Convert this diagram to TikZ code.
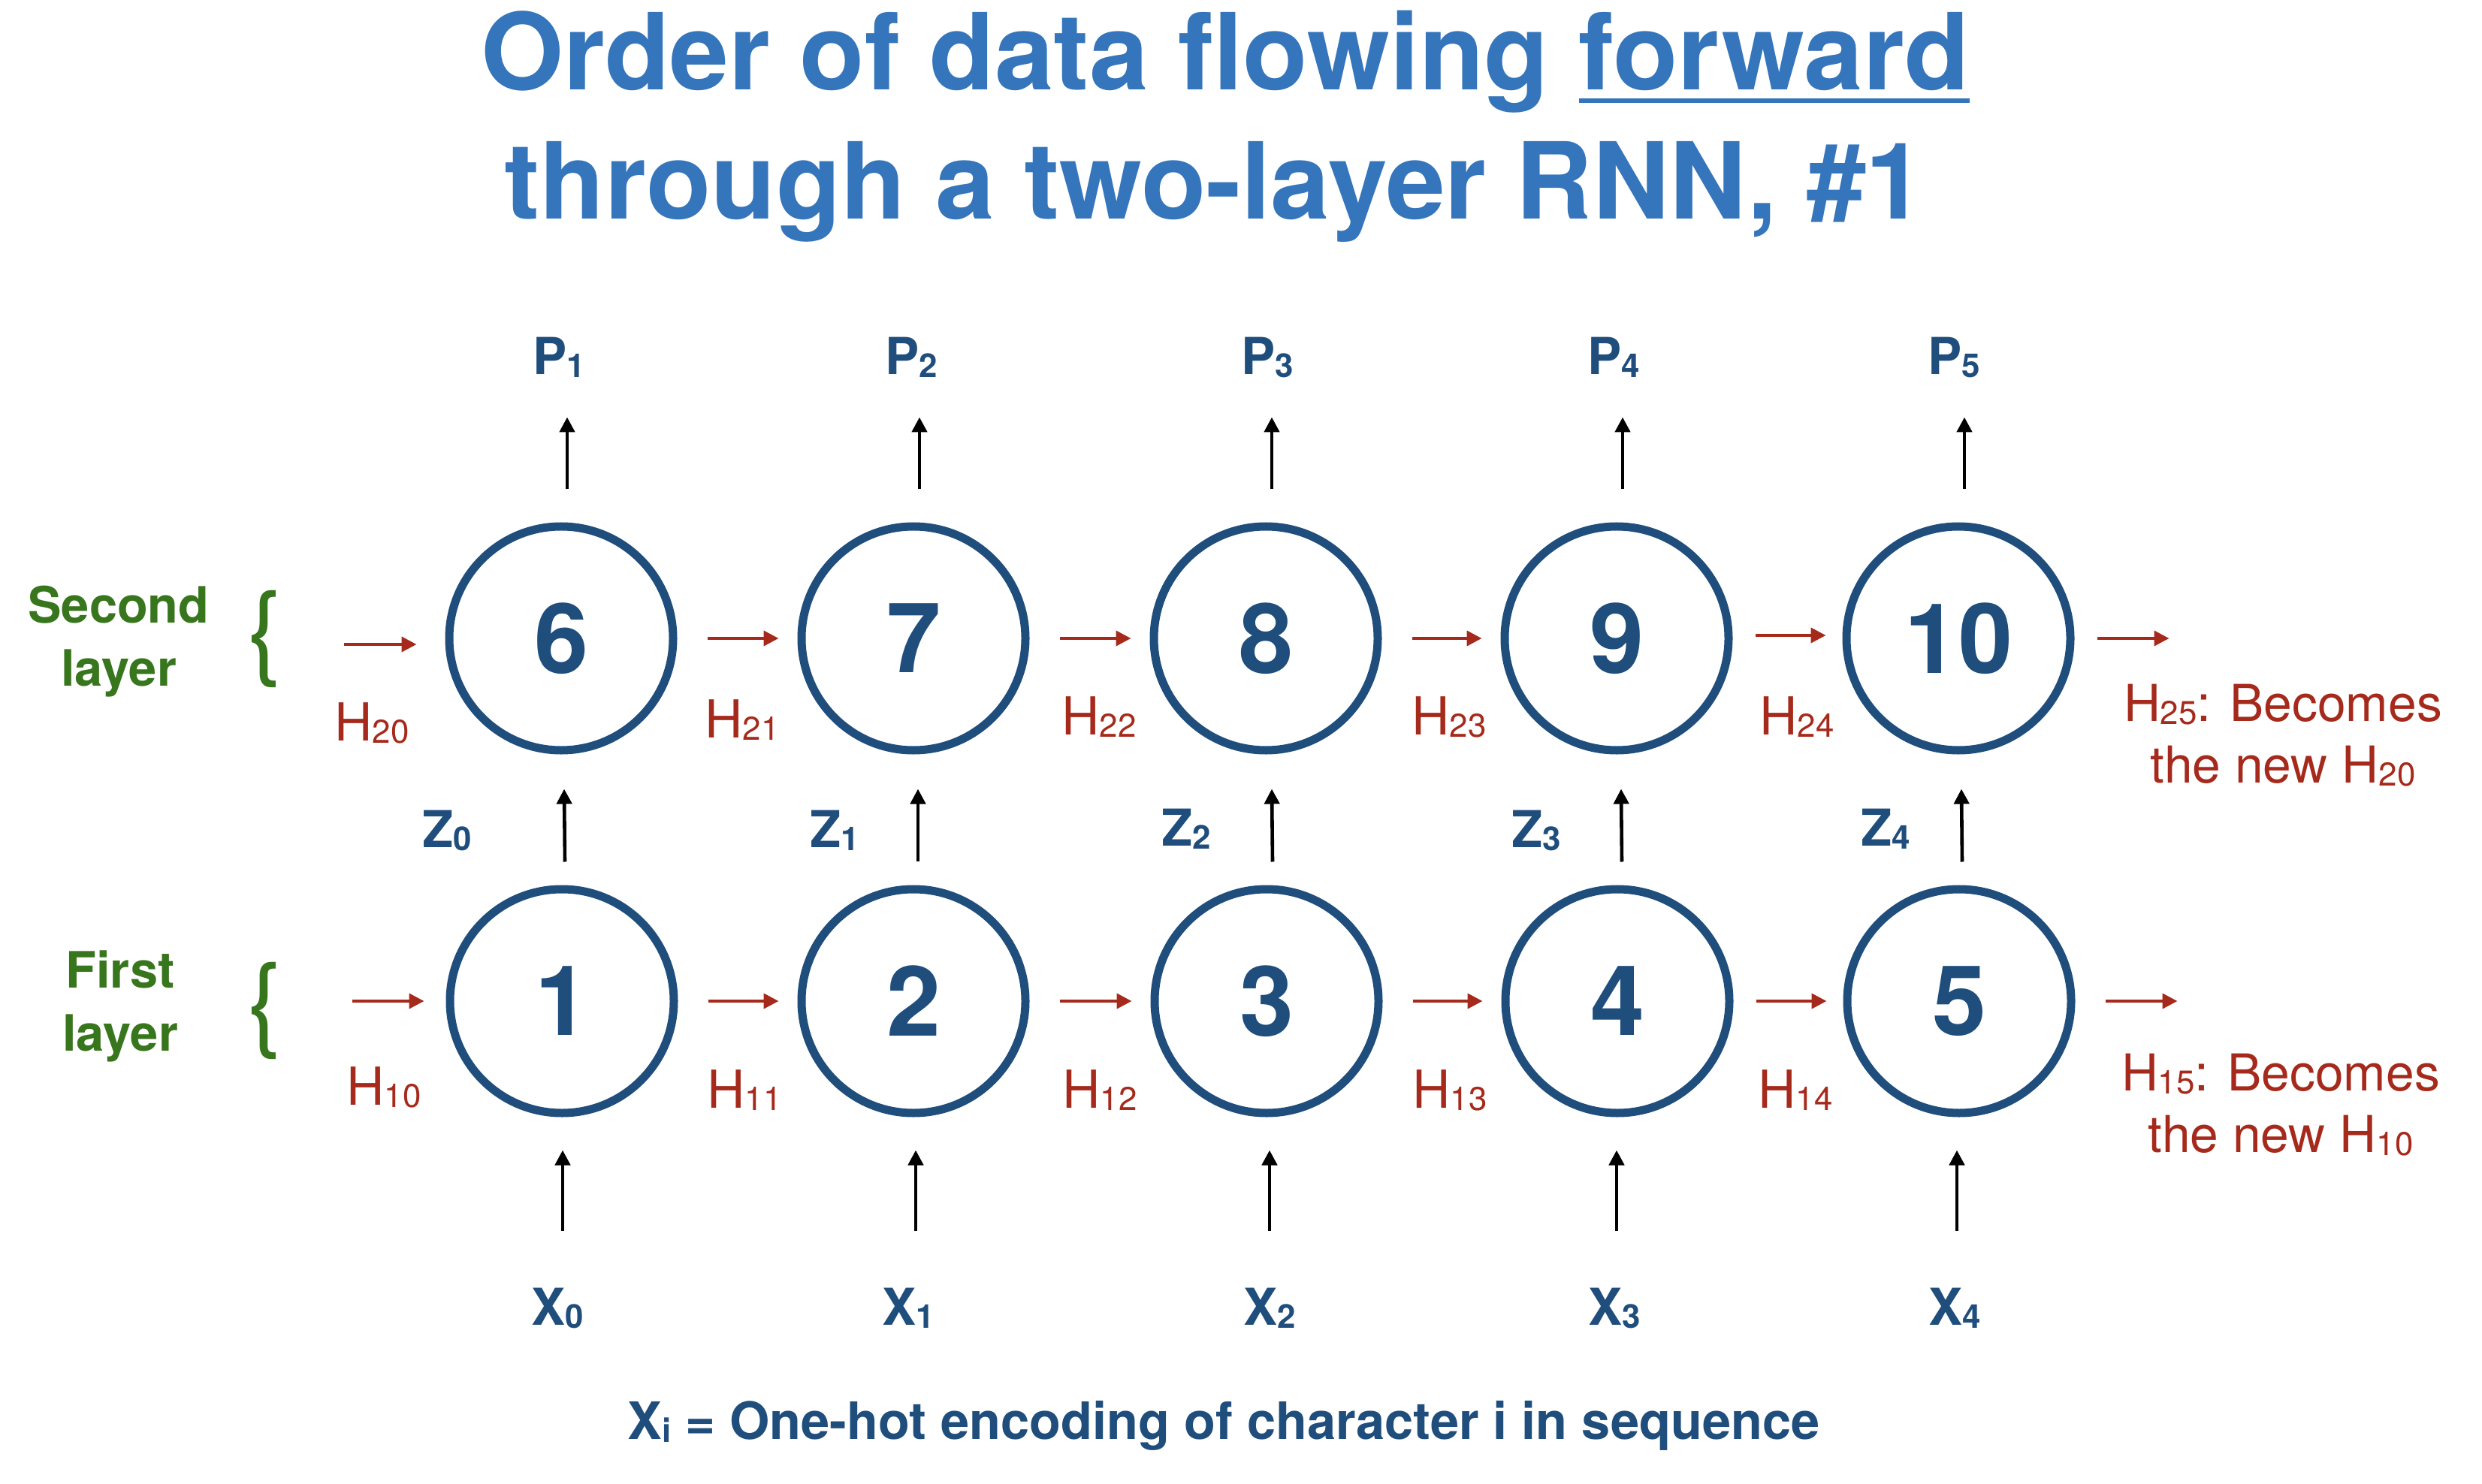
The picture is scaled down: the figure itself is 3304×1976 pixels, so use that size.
\documentclass[tikz,border=0pt]{standalone}
\usepackage{fontspec}
\setmainfont{TeX Gyre Heros}
\usetikzlibrary{arrows.meta,calc}
\definecolor{tblue}{RGB}{53,117,187}
\definecolor{nblue}{RGB}{31,78,125}
\definecolor{hred}{RGB}{166,42,28}
\definecolor{lgreen}{RGB}{56,118,29}
\newsavebox\fwbox
\newcommand\bsub[2]{#1{\fontsize{22}{22}\selectfont\raisebox{-2bp}{#2}}}
\newcommand\rsub[2]{#1{\fontsize{22}{22}\selectfont\raisebox{-1.8bp}{#2}}}
\begin{document}
\begin{tikzpicture}[x=0.5bp,y=-0.5bp,
  circ/.style={circle,draw=nblue,line width=5.5bp,minimum size=149bp,inner sep=0pt,
    text=nblue,font=\fontsize{65}{65}\selectfont\bfseries},
  harrow/.style={draw=hred,line width=2bp,-{Triangle[length=10bp,width=10bp]}},
  varrow/.style={draw=black,line width=2.3bp,-{Triangle[length=10bp,width=10bp]}},
  blabel/.style={anchor=base,text=nblue,font=\fontsize{34}{34}\selectfont\bfseries,inner sep=0pt},
  caplabel/.style={anchor=base,text=nblue,font=\fontsize{34.4}{34.4}\selectfont\bfseries,inner sep=0pt},
  rlabel/.style={anchor=base west,text=hred,font=\fontsize{35}{35}\selectfont,inner sep=0pt},
  rnote/.style={align=center,text=hred,font=\fontsize{34}{41}\selectfont,inner sep=0pt},
  glabel/.style={align=center,text=lgreen,font=\fontsize{33.5}{42.5}\selectfont\bfseries,inner sep=0pt},
  brace/.style={text=lgreen,font=\fontsize{69}{69}\selectfont,inner sep=0pt},
  titlestyle/.style={anchor=base,text=tblue,font=\fontsize{71}{71}\selectfont\bfseries,inner sep=0pt}]
\fill[white] (0,0) rectangle (3304,1976);
\useasboundingbox (0,0) rectangle (3304,1976);

% title
\node[titlestyle] (t1) at (1631,120) {Order of data flowing \sbox\fwbox{forward}\rlap{\rule[-8.5bp]{\wd\fwbox}{3.2bp}}\usebox\fwbox};
\node[titlestyle] (t2) at (1617,292) {through a two-layer RNN, \#1};

% circles
\node[circ] (c6) at (747,850) {6};
\node[circ] (c7) at (1216,850) {7};
\node[circ] (c8) at (1685,850) {8};
\node[circ] (c9) at (2152,850) {9};
\node[circ] (c10) at (2607,850) {10};
\node[circ] (c1) at (748,1333) {1};
\node[circ] (c2) at (1216,1333) {2};
\node[circ] (c3) at (1686,1333) {3};
\node[circ] (c4) at (2153,1333) {4};
\node[circ] (c5) at (2608,1333) {5};

% layer labels
\node[glabel] (g2) at (158,854) {Second\\layer};
\node[glabel] (g1) at (160,1340) {First\\layer};
\node[brace] (b2) at (352,851) {\{};
\node[brace] (b1) at (352,1346) {\{};

% P labels
\node[blabel] (p1) at (744,499) {\bsub{P}{1}};
\node[blabel] (p2) at (1213,499) {\bsub{P}{2}};
\node[blabel] (p3) at (1687,499) {\bsub{P}{3}};
\node[blabel] (p4) at (2148,499) {\bsub{P}{4}};
\node[blabel] (p5) at (2601,499) {\bsub{P}{5}};
% Z labels
\node[blabel] (z0) at (595,1128) {\bsub{Z}{0}};
\node[blabel] (z1) at (1111,1128) {\bsub{Z}{1}};
\node[blabel] (z2) at (1579,1126) {\bsub{Z}{2}};
\node[blabel] (z3) at (2045,1128) {\bsub{Z}{3}};
\node[blabel] (z4) at (2510,1126) {\bsub{Z}{4}};
% X labels
\node[blabel] (x0) at (742,1764) {\bsub{X}{0}};
\node[blabel] (x1) at (1209,1764) {\bsub{X}{1}};
\node[blabel] (x2) at (1690,1764) {\bsub{X}{2}};
\node[blabel] (x3) at (2149,1764) {\bsub{X}{3}};
\node[blabel] (x4) at (2602,1764) {\bsub{X}{4}};

% H labels
\node[rlabel] (h20) at (445,986) {\rsub{H}{20}};
\node[rlabel] (h21) at (938,982) {\rsub{H}{21}};
\node[rlabel] (h22) at (1413,978) {\rsub{H}{22}};
\node[rlabel] (h23) at (1879,978) {\rsub{H}{23}};
\node[rlabel] (h24) at (2342,978) {\rsub{H}{24}};
\node[rlabel] (h10) at (461,1471) {\rsub{H}{10}};
\node[rlabel] (h11) at (941,1475) {\rsub{H}{11}};
\node[rlabel] (h12) at (1414,1475) {\rsub{H}{12}};
\node[rlabel] (h13) at (1880,1475) {\rsub{H}{13}};
\node[rlabel] (h14) at (2340,1475) {\rsub{H}{14}};

\node[rnote] (n2) at (3039,979) {\rsub{H}{25}: Becomes\\the new \rsub{H}{20}};
\node[rnote] (n1) at (3036,1471) {\rsub{H}{15}: Becomes\\the new \rsub{H}{10}};

% caption
\node[caplabel] (cap) at (1629,1916) {\bsub{X}{i} = One-hot encoding of character i in sequence};

% red horizontal arrows, second layer
\draw[harrow] ($(c6.west)+(-135,8)$) -- ($(c6.west)+(-38,8)$);
\draw[harrow] ($(c6.east)+(40,0)$) -- ($(c7.west)+(-25,0)$);
\draw[harrow] ($(c7.east)+(40,0)$) -- ($(c8.west)+(-25,0)$);
\draw[harrow] ($(c8.east)+(40,0)$) -- ($(c9.west)+(-25,0)$);
\draw[harrow] ($(c9.east)+(30,-4)$) -- ($(c10.west)+(-22,-4)$);
\draw[harrow] ($(c10.east)+(30,0)$) -- ($(c10.east)+(126,0)$);
% first layer
\draw[harrow] ($(c1.west)+(-125,0)$) -- ($(c1.west)+(-29,0)$);
\draw[harrow] ($(c1.east)+(40,0)$) -- ($(c2.west)+(-25,0)$);
\draw[harrow] ($(c2.east)+(40,0)$) -- ($(c3.west)+(-25,0)$);
\draw[harrow] ($(c3.east)+(40,0)$) -- ($(c4.west)+(-25,0)$);
\draw[harrow] ($(c4.east)+(30,0)$) -- ($(c5.west)+(-22,0)$);
\draw[harrow] ($(c5.east)+(40,0)$) -- ($(c5.east)+(136,0)$);

% vertical arrows: outputs
\foreach \c in {c6,c7,c8,c9,c10}{
  \draw[varrow] ($(\c.north)+(8,-44)$) -- ($(\c.north)+(8,-140)$);
}
% between layers
\draw[varrow] ($(c1.north)+(4,-31)$) -- ($(c6.south)+(4,46)$);
\draw[varrow] ($(c2.north)+(6,-31)$) -- ($(c7.south)+(6,46)$);
\draw[varrow] ($(c3.north)+(8,-31)$) -- ($(c8.south)+(8,46)$);
\draw[varrow] ($(c4.north)+(6,-31)$) -- ($(c9.south)+(6,46)$);
\draw[varrow] ($(c5.north)+(4,-31)$) -- ($(c10.south)+(4,46)$);
% inputs
\draw[varrow] ($(x0.north)+(7,-75)$) -- ($(c1.south)+(1,44)$);
\draw[varrow] ($(x1.north)+(10,-75)$) -- ($(c2.south)+(3,44)$);
\draw[varrow] ($(x2.north)+(0,-75)$) -- ($(c3.south)+(4,44)$);
\draw[varrow] ($(x3.north)+(3,-75)$) -- ($(c4.south)+(-1,44)$);
\draw[varrow] ($(x4.north)+(3,-75)$) -- ($(c5.south)+(-3,44)$);
\end{tikzpicture}
\end{document}
